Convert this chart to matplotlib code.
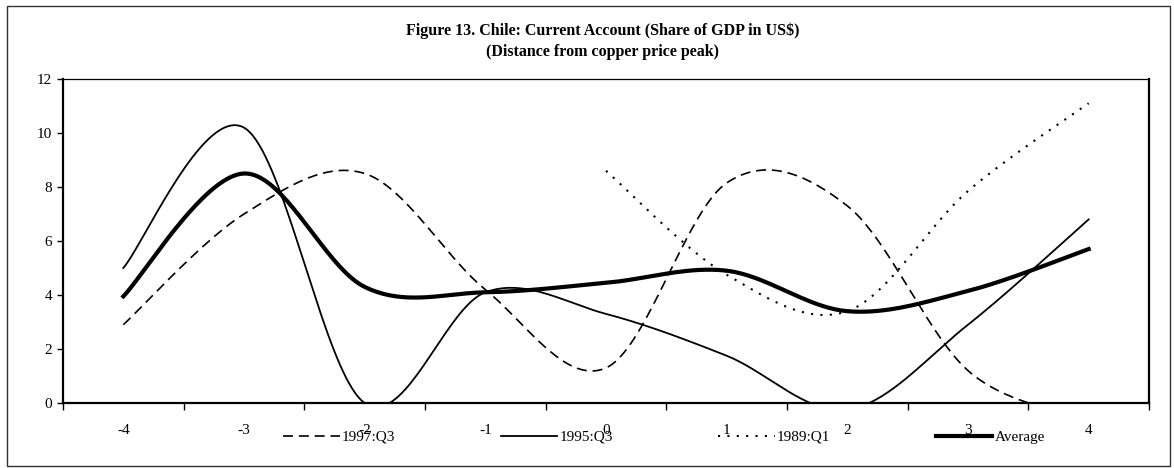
import numpy as np
import matplotlib.pyplot as plt
from matplotlib.patches import Rectangle

plt.rcParams['font.family'] = ['Liberation Serif', 'DejaVu Serif']

# distance from copper price peak (years)
years = [-4, -3, -2, -1, 0, 1, 2, 3, 4]
q3_1997 = [2.9, 7.0, 8.5, 4.2, 1.3, 8.15, 7.3, 1.2, -0.6]
q3_1995 = [5.0, 10.2, 0.0, 4.1, 3.3, 1.75, -0.25, 2.9, 6.8]
q1_1989 = [None, None, None, None, 8.6, 4.75, 3.4, 7.85, 11.1]
average = [3.95, 8.5, 4.3, 4.1, 4.45, 4.9, 3.4, 4.15, 5.7]
y_ticks = [0, 2, 4, 6, 8, 10, 12]


def smooth(xs, ys, steps=40):
    # excel-like smoothed line (catmull-rom as bezier)
    p = np.array([(x, y) for x, y in zip(xs, ys) if y is not None], dtype=float)
    p = np.vstack([p[0], p, p[-1]])
    out = []
    t = np.linspace(0, 1, steps)[:, None]
    for i in range(1, len(p) - 2):
        p0, p1, p2, p3 = p[i - 1], p[i], p[i + 1], p[i + 2]
        c1 = p1 + (p2 - p0) / 6
        c2 = p2 - (p3 - p1) / 6
        seg = (1 - t) ** 3 * p1 + 3 * (1 - t) ** 2 * t * c1 + 3 * (1 - t) * t ** 2 * c2 + t ** 3 * p2
        out.append(seg if i == 1 else seg[1:])
    out = np.vstack(out)
    return out[:, 0], out[:, 1]


W, H = 1174, 468
fig = plt.figure(figsize=(W / 100, H / 100), dpi=100)
fig.patches.append(Rectangle((7 / W, 1 - 466 / H), 1163 / W, 460 / H, transform=fig.transFigure,
                             fill=False, lw=1.0, edgecolor='#333333'))

ax = fig.add_axes([63 / W, 1 - 403 / H, 1086 / W, 324 / H])

x, y = smooth(years, q3_1997)
l1, = ax.plot(x, y, color='black', lw=1.2, dashes=(6, 3.5), label='1997:Q3')
x, y = smooth(years, q3_1995)
l2, = ax.plot(x, y, color='black', lw=1.3, label='1995:Q3')
x, y = smooth(years, q1_1989)
l3, = ax.plot(x, y, color='black', lw=1.5, dashes=(1, 3.5), label='1989:Q1')
x, y = smooth(years, average)
l4, = ax.plot(x, y, color='black', lw=3.0, label='Average')

ax.set_xlim(-4.5, 4.5)
ax.set_ylim(0, 12)
ax.set_xticks(np.arange(-4.5, 4.6, 1))
ax.set_xticklabels([])
ax.set_xticks(years, minor=True)
ax.set_xticklabels([str(v) for v in years], minor=True)
ax.tick_params(axis='x', which='major', length=5, width=1, direction='out')
ax.tick_params(axis='x', which='minor', length=0, pad=15, labelsize=11)
ax.set_yticks(y_ticks)
ax.tick_params(axis='y', length=4, width=1, direction='out', labelsize=11, pad=4)

for side in ['left', 'bottom', 'right']:
    ax.spines[side].set_linewidth(1.6)
ax.spines['top'].set_linewidth(0.9)

fig.text(603 / W, 1 - 31 / H, 'Figure 13. Chile: Current Account (Share of GDP in US$)',
         ha='center', va='center', fontsize=11.5, fontweight='bold')
fig.text(603 / W, 1 - 52 / H, '(Distance from copper price peak)',
         ha='center', va='center', fontsize=11.5, fontweight='bold')

# legend sits on the category labels, as in the original
fig.legend(handles=[l1, l2, l3, l4], loc='center left', bbox_to_anchor=(283 / W, 1 - 437 / H),
           ncol=4, frameon=False, fontsize=11, handlelength=3.7, handletextpad=0.15,
           columnspacing=6.9, borderpad=0, borderaxespad=0)

fig.savefig('out.png', dpi=100)
